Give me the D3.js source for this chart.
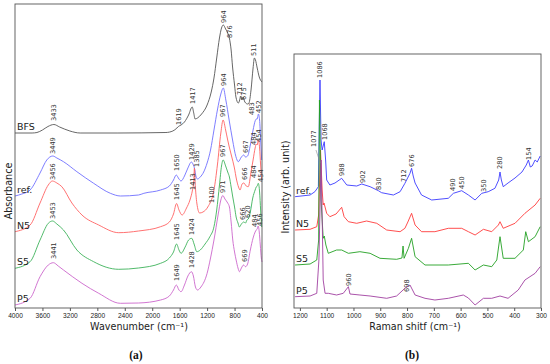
<!DOCTYPE html>
<html>
<head>
<meta charset="utf-8">
<script src="https://cdn.jsdelivr.net/npm/d3@7"></script>
<style>
    body { margin: 0; background: #fff; }
    svg { display: block; font-family: "DejaVu Sans", sans-serif; }
    .tick text { font-size: 6.6px; fill: #222; }
    .peak { font-size: 6.6px; fill: #333; }
    .name { font-size: 9.5px; fill: #222; }
    .AxisTitle { font-size: 9.6px; fill: #222; }
    .panel { font-family: "Liberation Serif", serif; font-size: 11.5px; font-weight: bold; fill: #111; }
</style>
</head>
<body>
<div id="chart"></div>
<script>
// ---------- FTIR (a) : [wavenumber, absorbance a.u. incl. offset] ----------
const irNames = ["BFS", "ref.", "N5", "S5", "P5"];
const irColors = ["#555555", "#6f6fff", "#ff6262", "#3db25a", "#cc66cc"];
const irTicks = [4000, 3600, 3200, 2800, 2400, 2000, 1600, 1200, 800, 400];

const irBFS = [[4000, 175], [3750, 175], [3680, 175.5], [3600, 178], [3520, 181.5], [3433, 183.5], [3350, 181],
    [3200, 177], [3050, 175], [2500, 175], [1800, 175.5], [1700, 177], [1640, 180], [1619, 181.5], [1580, 183],
    [1530, 186], [1470, 193], [1417, 201], [1395, 195], [1375, 189], [1340, 190], [1280, 194], [1200, 203],
    [1140, 216], [1100, 230], [1060, 250], [1020, 270], [990, 280], [964, 283], [930, 279], [900, 275], [876, 270],
    [850, 258], [829, 241], [800, 223], [780, 211], [745, 205], [725, 208], [712, 212], [695, 208], [675, 211],
    [650, 206], [610, 204], [590, 205], [560, 218], [530, 240], [511, 250], [495, 248], [470, 240], [440, 231], [400, 226]];

const irRef = [[4000, 112], [3900, 114], [3780, 118], [3635, 135], [3537, 148], [3449, 152], [3390, 150],
    [3293, 146.3], [3098, 136.3], [2854, 124.7], [2610, 114.7], [2463, 112], [2200, 113], [2122, 114.7],
    [1878, 118], [1750, 122], [1690, 128], [1650, 133], [1610, 129], [1580, 127], [1530, 132], [1480, 140],
    [1429, 146], [1400, 143], [1385, 140], [1360, 131], [1340, 129], [1300, 131], [1250, 136], [1200, 145],
    [1150, 158], [1100, 178], [1050, 198], [1000, 214], [964, 220], [927, 208], [879, 188], [829, 168],
    [780, 151.3], [746, 146.3], [700, 151], [667, 153], [640, 151], [610, 152], [570, 163], [530, 178],
    [500, 187], [483, 189], [470, 189], [452, 194], [435, 188], [420, 168], [405, 148]];

const irN5 = [[4000, 76.3], [3780, 83], [3635, 105], [3515, 123], [3456, 127], [3390, 125], [3317, 121.3],
    [3171, 105], [3024, 93], [2780, 83], [2488, 75.3], [2200, 77], [1878, 81.3], [1750, 86], [1690, 94],
    [1645, 104.5], [1610, 98], [1565, 93], [1500, 100], [1450, 108], [1413, 118], [1395, 126], [1385, 140],
    [1375, 126], [1350, 105], [1310, 95], [1260, 96], [1190, 101], [1100, 118], [1050, 143], [1000, 175],
    [967, 188], [930, 178], [900, 168], [877, 161], [840, 151], [805, 141], [770, 128], [742, 121], [720, 118],
    [690, 124], [666, 125], [630, 122], [600, 121.3], [560, 136], [530, 148], [500, 160], [484, 164],
    [470, 163], [454, 168], [435, 160], [420, 143], [405, 128]];

const irS5 = [[4000, 39.7], [3780, 46.3], [3635, 68], [3515, 84.7], [3453, 87], [3390, 84], [3293, 78],
    [3098, 58], [2854, 46.3], [2488, 38.7], [2200, 40], [1878, 44.7], [1750, 50], [1690, 56], [1645, 64],
    [1610, 58], [1580, 54.7], [1520, 61], [1470, 68], [1424, 69.7], [1390, 64], [1350, 56.3], [1300, 58],
    [1230, 64], [1160, 71.3], [1100, 81.3], [1060, 98], [1020, 123], [990, 142], [967, 148], [930, 142],
    [900, 136], [875, 131], [850, 121], [826, 111], [800, 101], [777, 91], [750, 85], [729, 81], [700, 84],
    [666, 86], [640, 85], [620, 88], [600, 89], [570, 96], [535, 110], [500, 118], [484, 121], [470, 122],
    [454, 124.7], [435, 116], [420, 98], [405, 81]];

const irP5 = [[4000, 3], [3780, 9.7], [3635, 31.3], [3515, 43], [3441, 45.3], [3370, 42], [3293, 38],
    [3024, 24.7], [2780, 14.7], [2463, 4.7], [2200, 5], [1878, 8], [1750, 12], [1690, 18], [1649, 23],
    [1610, 18], [1580, 16.3], [1530, 23], [1480, 32], [1428, 36.3], [1400, 32], [1370, 21], [1340, 18],
    [1290, 21], [1200, 34.7], [1150, 50], [1100, 68], [1040, 93], [1000, 108], [971, 112.5], [940, 109],
    [900, 105], [875, 101], [850, 86], [826, 68], [800, 56], [777, 48], [750, 40], [729, 36.3], [700, 40],
    [669, 43], [640, 41.3], [610, 44], [570, 58], [530, 70], [500, 76], [484, 78], [470, 79], [456, 82],
    [440, 76], [425, 63], [410, 50], [400, 46]];

// peak labels: [wavenumber, level at text foot, text]
const irPeaks = [
    [3433, 187, "3433"], [1619, 183, "1619"], [1417, 204, "1417"], [964, 285, "964"], [876, 270, "876"],
    [728, 213, "712"], [660, 208, "675"], [517, 252, "511"], [546, 193, "483"], [454, 195, "452"],
    [3449, 154, "3449"], [1650, 137, "1650"], [1429, 148, "1429"], [1351, 141, "1385"], [964, 222, "964"],
    [634, 155, "667"],
    [3448, 128, "3456"], [1645, 108, "1645"], [1413, 118, "1413"], [967, 191, "967"], [646, 128, "666"],
    [526, 163, "484"], [444, 166, "454"],
    [3453, 89, "3453"], [1645, 68, "1645"], [1424, 73, "1424"], [1130, 105, "1100"], [967, 151, "967"],
    [680, 88, "666"], [609, 90, "620"], [522, 130, "484"], [425, 126, "454"],
    [3441, 49, "3441"], [1649, 27, "1649"], [1428, 40, "1428"], [971, 115, "971"], [659, 46, "669"],
    [503, 81, "484"], [430, 82, "456"]];

// ---------- Raman (b) : [shift, intensity a.u. incl. offset] ----------
const ramanNames = ["ref.", "N5", "S5", "P5"];
const ramanColors = ["#3b3bff", "#ff3b3b", "#23a023", "#a040a0"];
const ramanTicks = [1200, 1100, 1000, 900, 800, 700, 600, 500, 400, 300];

const ramanRef = [[1218, 111.3], [1162, 113], [1144, 116.3], [1131, 121.3], [1129, 158], [1125, 228],
    [1121, 168], [1117, 158], [1109, 166.3], [1104, 148], [1100, 128], [1088, 123], [1069, 125], [1044, 129.7],
    [1025, 123], [988, 122], [969, 124], [938, 121.3], [907, 117.3], [895, 115.3], [851, 113], [826, 116.3],
    [808, 124.7], [789, 134.7], [783, 139.7], [777, 132], [770, 125], [746, 113], [708, 108], [646, 109.7],
    [627, 114.7], [596, 117.3], [571, 113], [546, 108], [521, 114.7], [497, 116.3], [472, 119.7], [458, 128],
    [453, 136], [448, 128], [441, 121.3], [423, 125], [397, 130], [371, 136], [355, 143], [347, 148],
    [340, 141], [333, 142], [322, 148], [314, 146], [303, 152]];

const ramanN5 = [[1218, 78], [1162, 78.7], [1137, 81.3], [1130, 93], [1123, 158], [1117, 118], [1113, 103],
    [1110, 105], [1100, 94.7], [1088, 91.3], [1065, 94], [1044, 100.7], [1035, 91.3], [1019, 86.3], [988, 84.7],
    [951, 87], [913, 84.7], [876, 78], [826, 76.3], [808, 79.7], [797, 86], [783, 94.7], [770, 83], [746, 76.3],
    [696, 76.3], [646, 79.7], [596, 79.7], [571, 76.3], [546, 73], [515, 78.7], [484, 76.3], [459, 83],
    [453, 86.3], [441, 79.7], [397, 84.7], [360, 94.7], [322, 103], [303, 109.7]];

const ramanS5 = [[1218, 43], [1162, 44], [1137, 48], [1130, 68], [1127, 208], [1121, 108], [1113, 69.7],
    [1109, 72], [1103, 63], [1094, 54.7], [1063, 58], [1044, 58], [1019, 54.7], [976, 56.3], [938, 54.7],
    [901, 49.7], [839, 48.7], [819, 50], [815, 62], [811, 49.7], [795, 59.7], [783, 69.7], [770, 51.3],
    [733, 43], [646, 43], [571, 44.7], [546, 38], [515, 43], [484, 41.3], [465, 48], [453, 71.3], [441, 49.7],
    [397, 49.7], [366, 58], [357, 76.3], [347, 66.3], [322, 71.3], [303, 81.3]];

const ramanP5 = [[1218, 11.3], [1162, 12], [1137, 14.7], [1129, 48], [1121, 148], [1116, 78], [1113, 28],
    [1106, 14.7], [1094, 14.7], [1063, 13], [1038, 14.7], [1019, 21.3], [1013, 14], [976, 13], [938, 12],
    [876, 9.7], [839, 12], [808, 19.7], [789, 23], [770, 13], [733, 9.7], [696, 8], [646, 9.7], [590, 13],
    [571, 10], [546, 3], [515, 9.7], [484, 9.7], [453, 12], [423, 9.7], [385, 18], [360, 28], [322, 34.7],
    [303, 41.3]];

const ramanPeaks = [
    [1125, 230, "1086"], [1150, 161, "1077"], [1109, 168, "1068"], [1044, 132, "988"], [967, 125, "902"],
    [907, 118, "830"], [814, 126, "712"], [783, 141, "676"], [630, 117, "490"], [596, 119, "450"],
    [515, 116, "350"], [453, 139, "280"], [347, 148, "154"], [1019, 22, "960"], [801, 16, "698"]];

const w = 550;
const h = 364;

const svg = d3.select("#chart")
    .append("svg")
    .attr("width", w)
    .attr("height", h);

function drawPanel(cfg) {
    const xScale = d3.scaleLinear().domain(cfg.xDomain).range([cfg.left, cfg.right]);
    const yScale = d3.scaleLinear().domain(cfg.yDomain).range([cfg.bottom, cfg.top]);

    const line = d3.line()
        .x(function (d) { return xScale(d[0]); })
        .y(function (d) { return yScale(d[1]); })
        .curve(cfg.curve);

    const g = svg.append("g");

    g.selectAll(".spec")
        .data(cfg.series)
        .enter()
        .append("path")
        .attr("class", "spec")
        .attr("d", line)
        .attr("fill", "none")
        .attr("stroke", function (d, i) { return cfg.colors[i]; })
        .attr("stroke-width", 0.9);

    // series names on the left
    g.selectAll(".name")
        .data(cfg.series)
        .enter()
        .append("text")
        .attr("class", "name")
        .attr("x", cfg.left + 2)
        .attr("y", function (d) { return yScale(d[0][1]) - 3; })
        .text(function (d, i) { return cfg.names[i]; });

    // peak labels
    g.selectAll(".peak")
        .data(cfg.peaks)
        .enter()
        .append("text")
        .attr("class", "peak")
        .attr("transform", function (d) {
            return "translate(" + xScale(d[0]) + "," + yScale(d[1]) + ") rotate(-90)";
        })
        .attr("dy", "0.35em")
        .text(function (d) { return d[2]; });

    // frame
    g.append("rect")
        .attr("x", cfg.left)
        .attr("y", cfg.top)
        .attr("width", cfg.right - cfg.left)
        .attr("height", cfg.bottom - cfg.top)
        .attr("fill", "none")
        .attr("stroke", "#555")
        .attr("stroke-width", 0.9);

    const xAxis = d3.axisBottom(xScale)
        .tickValues(cfg.ticks)
        .tickFormat(d3.format("d"))
        .tickSize(3)
        .tickSizeOuter(0)
        .tickPadding(2);

    g.append("g")
        .attr("transform", "translate(0," + cfg.bottom + ")")
        .call(xAxis)
        .call(function (a) { a.select(".domain").remove(); })
        .call(function (a) { a.selectAll("line").attr("stroke", "#555"); });

    return { x: xScale, y: yScale, g: g };
}

const irPanel = drawPanel({
    xDomain: [4000, 400], yDomain: [0, 304],
    left: 15, right: 262, top: 4, bottom: 308,
    series: [irBFS, irRef, irN5, irS5, irP5],
    names: irNames, colors: irColors, peaks: irPeaks, ticks: irTicks,
    curve: d3.curveMonotoneX
});

const ramanPanel = drawPanel({
    xDomain: [1222, 300], yDomain: [0, 254],
    left: 294, right: 541, top: 54, bottom: 308,
    series: [ramanRef, ramanN5, ramanS5, ramanP5],
    names: ramanNames, colors: ramanColors, peaks: ramanPeaks, ticks: ramanTicks,
    curve: d3.curveLinear
});

// leader line for the 1077 label
ramanPanel.g.append("line")
    .attr("x1", ramanPanel.x(1140)).attr("y1", ramanPanel.y(158))
    .attr("x2", ramanPanel.x(1124)).attr("y2", ramanPanel.y(145))
    .attr("stroke", "#888")
    .attr("stroke-width", 0.6);

// Axis titles
svg.append("text")
    .attr("class", "AxisTitle")
    .attr("text-anchor", "middle")
    .attr("x", 139)
    .attr("y", 329.5)
    .text("Wavenumber (cm\u207B\u00B9)");

svg.append("text")
    .attr("class", "AxisTitle")
    .attr("text-anchor", "middle")
    .attr("x", 415)
    .attr("y", 329.5)
    .text("Raman shitf (cm\u207B\u00B9)");

svg.append("text")
    .attr("class", "AxisTitle")
    .attr("text-anchor", "middle")
    .attr("transform", "translate(12,191) rotate(-90)")
    .text("Absorbance");

svg.append("text")
    .attr("class", "AxisTitle")
    .attr("text-anchor", "middle")
    .attr("transform", "translate(289,187) rotate(-90)")
    .text("Intensity (arb. unit)");

svg.append("text")
    .attr("class", "panel")
    .attr("text-anchor", "middle")
    .attr("x", 136)
    .attr("y", 359)
    .text("(a)");

svg.append("text")
    .attr("class", "panel")
    .attr("text-anchor", "middle")
    .attr("x", 412)
    .attr("y", 359)
    .text("(b)");
</script>
</body>
</html>
